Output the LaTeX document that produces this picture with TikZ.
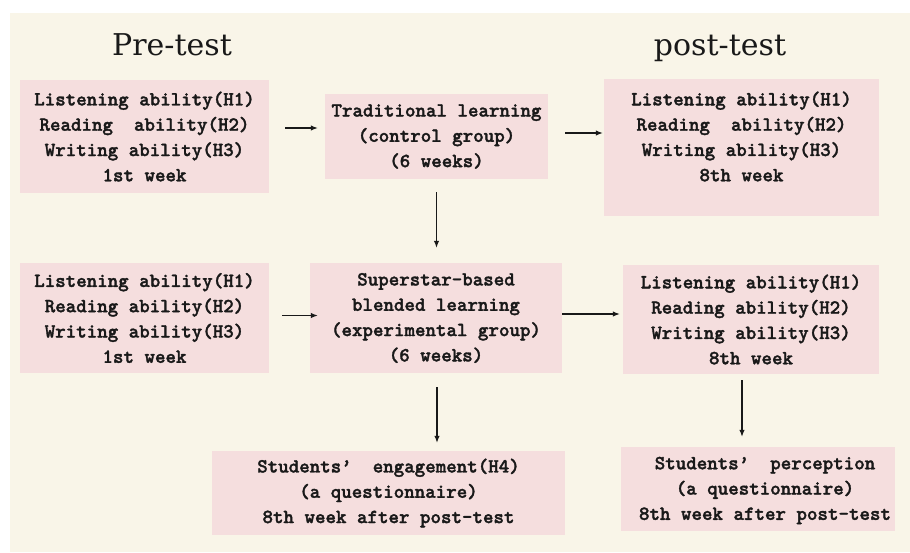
\documentclass[tikz,border=0pt]{standalone}
\usepackage{fontspec}
\newfontfamily\titlefont{DejaVu Serif}
\newfontfamily\boxfam{lmmonolt10-bold.otf}[FakeBold=1.6]
\usetikzlibrary{arrows.meta,calc}
\definecolor{bgcream}{RGB}{249,245,232}
\definecolor{boxpink}{RGB}{245,222,222}
\definecolor{ink}{RGB}{25,25,25}
\newcommand\boxfnt{\boxfam\fontsize{20}{25.3}\selectfont}
\begin{document}
\begin{tikzpicture}[x=1pt,y=-1pt,
  ttl/.style={font=\titlefont\fontsize{30}{34}\selectfont, text=ink, inner sep=0pt},
  box/.style={fill=boxpink, inner sep=0pt, align=center, font=\boxfnt, text=ink},
  txt/.style={inner sep=0pt, align=center, font=\boxfnt, text=ink},
  arr/.style={draw=ink, line width=1.2pt, -{Latex[length=7pt,width=5.5pt]}}]
\useasboundingbox (0,0) rectangle (910,552);
\fill[bgcream] (10,13) rectangle (910,552);
% titles
\node[ttl, anchor=base] (pre) at (172,55) {Pre-test};
\node[ttl, anchor=base] (post) at (720,55) {post-test};
% boxes
\node[box, minimum width=249pt, minimum height=113pt] (a1) at (144.5,136.5)
  {Listening ability(H1)\\Reading\ \ ability(H2)\\Writing ability(H3)\\1st week};
\node[box, minimum width=223pt, minimum height=85pt] (b1) at (436.5,136.5)
  {Traditional learning\\(control group)\\(6 weeks)};
\node[box, minimum width=275pt, minimum height=137pt] (c1) at (741.5,147.5) {};
\node[txt] (c1t) at (741.5,136.5)
  {Listening ability(H1)\\Reading\ \ ability(H2)\\Writing ability(H3)\\8th week};
\node[box, minimum width=249pt, minimum height=110pt] (a2) at (144.5,318)
  {Listening ability(H1)\\Reading ability(H2)\\Writing ability(H3)\\1st week};
\node[box, minimum width=252pt, minimum height=110pt] (b2) at (436,318)
  {Superstar-based\\blended learning\\(experimental group)\\(6 weeks)};
\node[box, minimum width=256pt, minimum height=109pt] (c2) at (751,319.5)
  {Listening ability(H1)\\Reading ability(H2)\\Writing ability(H3)\\8th week};
\node[box, minimum width=353pt, minimum height=84pt] (d) at (388.5,493)
  {Students’\ \ engagement(H4)\\(a questionnaire)\\8th week after post-test};
\node[box, minimum width=274pt, minimum height=84pt] (e) at (758,489) {};
\node[txt] (et) at (765,490.5)
  {Students’\ \ perception\\(a questionnaire)\\8th week after post-test};
% arrows
\draw[arr] ([xshift=16pt,yshift=8.5pt]a1.east) -- ([xshift=-7pt,yshift=8.5pt]b1.west);
\draw[arr] ([xshift=17pt,yshift=3.5pt]b1.east) -- ([xshift=-1pt,yshift=14.5pt]c1.west);
\draw[arr] ([yshift=-13pt]b1.south) -- ([yshift=15pt]b1.south |- b2.north);
\draw[arr] ([xshift=13pt,yshift=2.5pt]a2.east) -- ([xshift=8pt,yshift=2.5pt]b2.west);
\draw[arr] ([yshift=4pt]b2.east) -- ([xshift=-3pt,yshift=5.5pt]c2.west);
\draw[arr] ([xshift=1pt,yshift=-14pt]b2.south) -- ([xshift=1pt,yshift=8pt]b2.south |- d.north);
\draw[arr] ([xshift=-9pt,yshift=-6pt]c2.south) -- ([xshift=-9pt,yshift=10pt]c2.south |- e.north);
\end{tikzpicture}
\end{document}
